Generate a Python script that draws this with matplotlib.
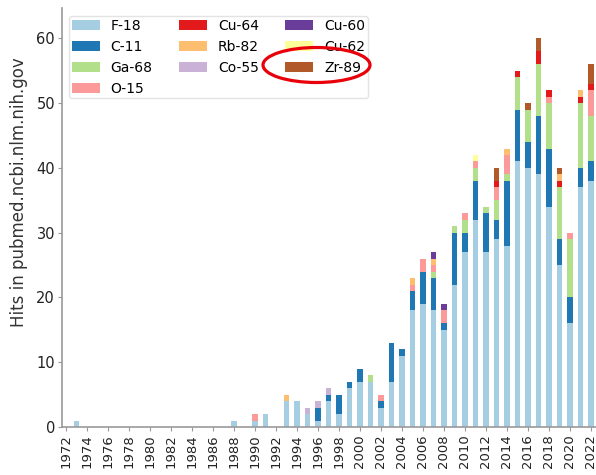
import matplotlib
matplotlib.use("Agg")
import matplotlib.pyplot as plt
from matplotlib.patches import Ellipse
import numpy as np

years = list(range(1972, 2023))

# values per year 1972..2022 (rows of 10 years, last row = 2022)
f18 = [0, 1, 0, 0, 0, 0, 0, 0, 0, 0,
       0, 0, 0, 0, 0, 0, 1, 0, 1, 2,
       0, 4, 4, 2, 1, 4, 2, 6, 7, 7,
       3, 7, 11, 18, 19, 18, 15, 22, 27, 32,
       27, 29, 28, 41, 40, 39, 34, 25, 16, 37,
       38]
c11 = [0, 0, 0, 0, 0, 0, 0, 0, 0, 0,
       0, 0, 0, 0, 0, 0, 0, 0, 0, 0,
       0, 0, 0, 0, 2, 1, 3, 1, 2, 0,
       1, 6, 1, 3, 5, 5, 1, 8, 3, 6,
       6, 3, 10, 8, 4, 9, 9, 4, 4, 3,
       3]
ga68 = [0, 0, 0, 0, 0, 0, 0, 0, 0, 0,
        0, 0, 0, 0, 0, 0, 0, 0, 0, 0,
        0, 0, 0, 0, 0, 0, 0, 0, 0, 1,
        0, 0, 0, 0, 0, 1, 0, 1, 2, 2,
        1, 3, 1, 5, 5, 8, 7, 8, 9, 10,
        7]
o15 = [0, 0, 0, 0, 0, 0, 0, 0, 0, 0,
       0, 0, 0, 0, 0, 0, 0, 0, 1, 0,
       0, 0, 0, 0, 0, 0, 0, 0, 0, 0,
       1, 0, 0, 1, 2, 1, 2, 0, 1, 1,
       0, 2, 3, 0, 0, 0, 1, 0, 1, 0,
       4]
cu64 = [0, 0, 0, 0, 0, 0, 0, 0, 0, 0,
        0, 0, 0, 0, 0, 0, 0, 0, 0, 0,
        0, 0, 0, 0, 0, 0, 0, 0, 0, 0,
        0, 0, 0, 0, 0, 0, 0, 0, 0, 0,
        0, 1, 0, 1, 0, 2, 1, 1, 0, 1,
        1]
rb82 = [0, 0, 0, 0, 0, 0, 0, 0, 0, 0,
        0, 0, 0, 0, 0, 0, 0, 0, 0, 0,
        0, 1, 0, 0, 0, 0, 0, 0, 0, 0,
        0, 0, 0, 1, 0, 1, 0, 0, 0, 0,
        0, 0, 1, 0, 0, 0, 0, 1, 0, 1,
        0]
co55 = [0, 0, 0, 0, 0, 0, 0, 0, 0, 0,
        0, 0, 0, 0, 0, 0, 0, 0, 0, 0,
        0, 0, 0, 1, 1, 1, 0, 0, 0, 0,
        0, 0, 0, 0, 0, 0, 0, 0, 0, 0,
        0, 0, 0, 0, 0, 0, 0, 0, 0, 0,
        0]
cu60 = [0, 0, 0, 0, 0, 0, 0, 0, 0, 0,
        0, 0, 0, 0, 0, 0, 0, 0, 0, 0,
        0, 0, 0, 0, 0, 0, 0, 0, 0, 0,
        0, 0, 0, 0, 0, 1, 1, 0, 0, 0,
        0, 0, 0, 0, 0, 0, 0, 0, 0, 0,
        0]
cu62 = [0, 0, 0, 0, 0, 0, 0, 0, 0, 0,
        0, 0, 0, 0, 0, 0, 0, 0, 0, 0,
        0, 0, 0, 0, 0, 0, 0, 0, 0, 0,
        0, 0, 0, 0, 0, 0, 0, 0, 0, 1,
        0, 0, 0, 0, 0, 0, 0, 0, 0, 0,
        0]
zr89 = [0, 0, 0, 0, 0, 0, 0, 0, 0, 0,
        0, 0, 0, 0, 0, 0, 0, 0, 0, 0,
        0, 0, 0, 0, 0, 0, 0, 0, 0, 0,
        0, 0, 0, 0, 0, 0, 0, 0, 0, 0,
        0, 2, 0, 0, 1, 2, 0, 1, 0, 0,
        3]

labels = ["F-18", "C-11", "Ga-68", "O-15", "Cu-64", "Rb-82",
          "Co-55", "Cu-60", "Cu-62", "Zr-89"]
series = [f18, c11, ga68, o15, cu64, rb82, co55, cu60, cu62, zr89]
colors = ["#a6cee3", "#1f78b4", "#b2df8a", "#fb9a99", "#e31a1c",
          "#fdbf6f", "#cab2d6", "#6a3d9a", "#ffff99", "#b15928"]

fig = plt.figure(figsize=(5.96, 4.75), dpi=100)
ax = fig.add_axes([62 / 596, 48 / 475, 1 - 62 / 596, (427 - 8) / 475])

bottom = np.zeros(len(years))
for lab, vals, col in zip(labels, series, colors):
    v = np.array(vals, dtype=float)
    ax.bar(years, v, width=0.52, bottom=bottom, color=col, label=lab, linewidth=0)
    bottom += v

ax.set_xlim(1971.62, 2022.48)
ax.set_ylim(0, 64.7)
ax.set_xticks(list(range(1972, 2023, 2)))
ax.set_xticklabels([str(y) for y in range(1972, 2023, 2)], rotation=90, fontsize=9.5)
ax.set_yticks([0, 10, 20, 30, 40, 50, 60])
ax.tick_params(axis="y", labelsize=10.5, length=3, pad=2)
ax.tick_params(axis="x", length=3, pad=2)
ax.set_ylabel("Hits in pubmed.ncbi.nlm.nih.gov", fontsize=12, color="#333333")
ax.yaxis.set_label_coords(-0.064, 0.561)
for s in ["top", "right"]:
    ax.spines[s].set_visible(False)
for s in ["left", "bottom"]:
    ax.spines[s].set_color("#999999")
    ax.spines[s].set_linewidth(1.2)
ax.tick_params(colors="#999999", labelcolor="#222222")

leg = ax.legend(loc="upper left", ncol=3, fontsize=10, frameon=True,
                columnspacing=1.9, borderpad=0.2,
                bbox_to_anchor=(0.0, 1.0 - 1 / 419))
leg.get_frame().set_edgecolor("#dddddd")

ell = Ellipse((316.5 / 596, 1 - 65 / 475), width=107 / 596, height=35 / 475,
              transform=fig.transFigure, fill=False, edgecolor="#e8000b",
              linewidth=2.3)
fig.add_artist(ell)

fig.savefig("out.png", dpi=100)
